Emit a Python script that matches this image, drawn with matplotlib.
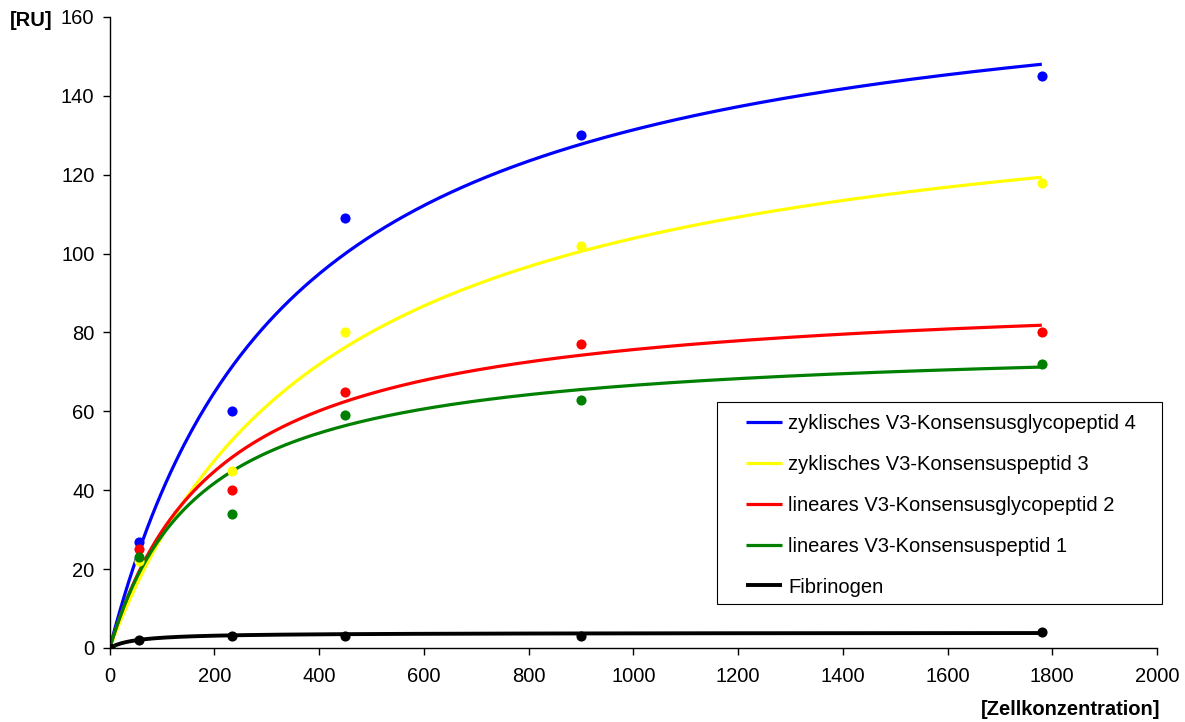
import numpy as np
import matplotlib
matplotlib.use("Agg")
import matplotlib.pyplot as plt
from matplotlib.patches import Rectangle

plt.rcParams['font.family'] = ['Liberation Sans', 'DejaVu Sans']

# Cell concentrations of the measurement points
conc = [0, 55, 233, 450, 900, 1780]

labels = [
    "zyklisches V3-Konsensusglycopeptid 4",
    "zyklisches V3-Konsensuspeptid 3",
    "lineares V3-Konsensusglycopeptid 2",
    "lineares V3-Konsensuspeptid 1",
    "Fibrinogen",
]
colors = ["#0000FF", "#FFFF00", "#FF0000", "#008000", "#000000"]
widths = [2.3, 2.3, 2.3, 2.3, 2.8]

# Measured responses [RU]
ru_cyc_glyco4 = [0, 27, 60, 109, 130, 145]
ru_cyc_pep3 = [0, 22, 45, 80, 102, 118]
ru_lin_glyco2 = [0, 25, 40, 65, 77, 80]
ru_lin_pep1 = [0, 23, 34, 59, 63, 72]
ru_fibrinogen = [0, 2, 3, 3, 3, 4]
responses = [ru_cyc_glyco4, ru_cyc_pep3, ru_lin_glyco2, ru_lin_pep1, ru_fibrinogen]

# One-site binding fit parameters (Bmax [RU], Kd) for each series
bmax = [176.7, 147.6, 91.4, 78.2, 3.9]
kd = [345, 421, 208, 174, 50]

FS = 14.5

fig = plt.figure(figsize=(11.85, 7.22), dpi=100)
ax = fig.add_axes([0.0926, 0.1025, 0.8838, 0.874])

xfit = np.linspace(0, conc[-1], 400)
for lab, col, lw, b, k in zip(labels, colors, widths, bmax, kd):
    ax.plot(xfit, b * xfit / (k + xfit), color=col, lw=lw, label=lab,
            solid_capstyle='butt', zorder=2)
for col, y in zip(colors, responses):
    ax.plot(conc, y, 'o', color=col, ms=7.3, mew=0, zorder=3)

ax.set_xlim(0, 2000)
ax.set_ylim(0, 160)
ax.set_xticks(np.arange(0, 2001, 200))
ax.set_yticks(np.arange(0, 161, 20))
for s in ['top', 'right']:
    ax.spines[s].set_visible(False)
for s in ['left', 'bottom']:
    ax.spines[s].set_linewidth(1.0)
ax.tick_params(direction='out', length=5, width=1.0, labelsize=FS)
ax.tick_params(axis='x', pad=9)
ax.tick_params(axis='y', pad=6)

fig.text(0.008, 0.971, "[RU]", fontsize=FS, fontweight='bold', ha='left', va='center')
fig.text(0.979, 0.017, "[Zellkonzentration]", fontsize=FS, fontweight='bold',
         ha='right', va='center')

# Legend box, drawn as its own rectangle so the padding can differ per side
ax.add_patch(Rectangle((0.605, 0.1634), 0.3755, 0.2798,
                       transform=fig.transFigure, facecolor='white',
                       edgecolor='black', lw=0.8, zorder=4, clip_on=False))
leg = ax.legend(loc='upper left', bbox_to_anchor=(0.6295, 0.4270),
                bbox_transform=fig.transFigure, fontsize=FS, frameon=False,
                handlelength=1.8, handletextpad=0.3, labelspacing=1.09,
                borderpad=0, borderaxespad=0)
leg.set_zorder(5)

fig.savefig("out.png", dpi=100)
